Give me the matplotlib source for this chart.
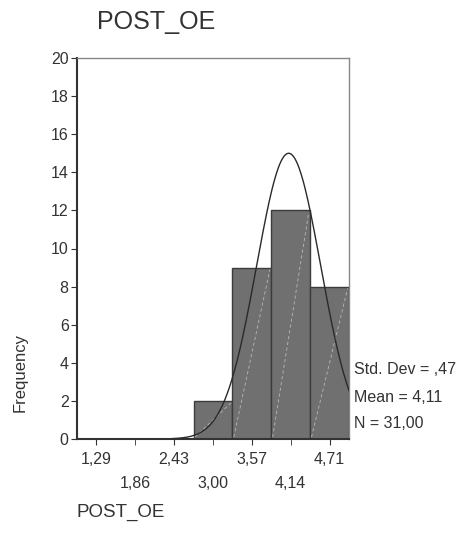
import numpy as np
import matplotlib
matplotlib.use('Agg')
import matplotlib.pyplot as plt

plt.rcParams['font.family'] = ['Liberation Sans', 'DejaVu Sans']

# bin centres and counts
centers = [1.29, 1.86, 2.43, 3.00, 3.57, 4.14, 4.71]
labels = ['1,29', '1,86', '2,43', '3,00', '3,57', '4,14', '4,71']
counts = [0, 0, 0, 2, 9, 12, 8]
bin_width = 0.57

mean = 4.11
std_dev = 0.47
n_obs = 31
stats_text = ['Std. Dev = ,47', 'Mean = 4,11', 'N = 31,00']

text_col = '#333333'

fig = plt.figure(figsize=(4.67, 5.48), dpi=100)
ax = fig.add_axes([77 / 467, 1 - 439 / 548, 272 / 467, 381 / 548])

bars = ax.bar(centers, counts, width=bin_width, color='#707070',
              edgecolor='#3c3c3c', linewidth=1.0, zorder=2)

# faint diagonal line inside each bar
for c, h in zip(centers, counts):
    if h > 0:
        ax.plot([c - bin_width / 2 + 0.02, c + bin_width / 2 - 0.02], [0.1, h - 0.1],
                color='#b8b8b8', lw=0.6, ls=(0, (4, 3)), zorder=3)

# normal curve
xs = np.linspace(centers[0] - bin_width / 2, centers[-1] + bin_width / 2, 400)
ys = n_obs * bin_width / (std_dev * np.sqrt(2 * np.pi)) * np.exp(-0.5 * ((xs - mean) / std_dev) ** 2)
mask = ys > 0.02
ax.plot(xs[mask], ys[mask], color='#2a2a2a', lw=1.0, zorder=4)

ax.set_xlim(centers[0] - bin_width / 2, centers[-1] + bin_width / 2)
ax.set_ylim(0, 20)
ax.set_yticks(range(0, 21, 2))

ax.set_xticks(centers[0::2])
ax.set_xticklabels(labels[0::2])
ax.set_xticks(centers[1::2], minor=True)
ax.set_xticklabels(labels[1::2], minor=True)
ax.tick_params(axis='x', which='major', length=4, pad=5, labelsize=11.5, colors=text_col)
ax.tick_params(axis='x', which='minor', length=4, pad=22.5, labelsize=11.5, colors=text_col)
ax.tick_params(axis='y', length=4, pad=2, labelsize=11.5, colors=text_col)

for side in ['left', 'bottom']:
    ax.spines[side].set_color('#333333')
    ax.spines[side].set_linewidth(1.5)
for side in ['top', 'right']:
    ax.spines[side].set_color('#888888')
    ax.spines[side].set_linewidth(1.0)

for i, t in enumerate(stats_text):
    fig.text(354 / 467, 1 - (370 + 27 * i) / 548, t, fontsize=11.5, color=text_col,
             va='center', ha='left')

fig.text(97 / 467, 1 - 22 / 548, 'POST_OE', fontsize=18, color=text_col, va='center', ha='left')
fig.text(20 / 467, 1 - 372 / 548, 'Frequency', fontsize=12, color=text_col,
         rotation=90, va='center', ha='center')
fig.text(76 / 467, 1 - 512 / 548, 'POST_OE', fontsize=13.5, color=text_col, va='center', ha='left')

fig.savefig('out.png', dpi=100)
